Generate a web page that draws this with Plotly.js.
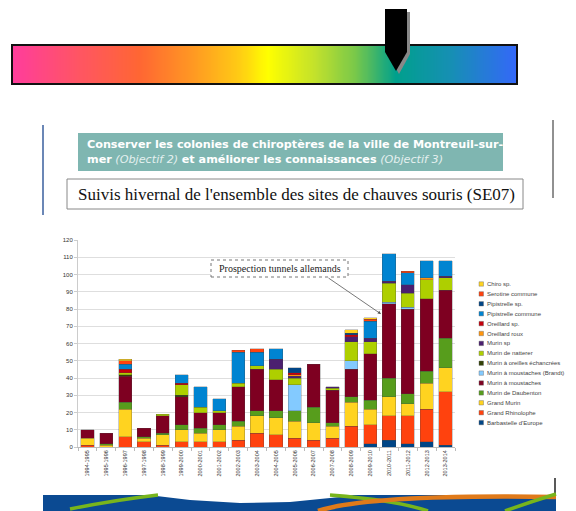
<!DOCTYPE html>
<html><head><meta charset="utf-8">
<script src="https://cdn.plot.ly/plotly-3.0.1.min.js"></script>
<style>html,body{margin:0;padding:0;background:#fff;}#chart{width:576px;height:511px;}</style>
</head><body><div id="chart"></div>
<script>
// ---- data ----
const seasons = ["1994-1995","1995-1996","1996-1997","1997-1998","1998-1999","1999-2000","2000-2001","2001-2002","2002-2003","2003-2004","2004-2005","2005-2006","2006-2007","2007-2008","2008-2009","2009-2010","2010-2011","2011-2012","2012-2013","2013-2014"];
const barbastelle   = [0,0,0,0,0,0,0,0,0,0,0,0,0,0,0,2,4,2,3,1];
const grandRhino    = [1,0,6,3,1,3,3,3,4,8,7,5,4,5,12,11,14,16,19,31];
const grandMurin    = [4,1,16,2,6,7,5,7,8,10,10,10,10,7,14,9,11,7,15,14];
const daubenton     = [0,1,4,1,1,3,3,3,3,3,4,6,9,2,3,5,11,6,7,17];
const moustaches    = [5,6,15,5,10,16,9,7,20,24,18,0,25,19,16,27,43,49,42,28];
const brandt        = [0,0,0,0,0,0,0,0,0,0,0,15,0,0,5,0,1,1,0,0];
const echancrees    = [0,0,1,0,0,1,0,0,0,0,0,0,0,0,0,0,0,0,0,0];
const natterer      = [0,0,1,0,1,6,3,1,2,2,6,4,0,1,11,7,11,8,11,7];
const murinSp       = [0,0,0,0,0,0,0,0,0,0,6,1,0,1,3,2,1,5,0,1];
const oreillardRoux = [0,0,0,0,0,0,0,0,0,0,0,1,0,0,0,0,0,0,1,0];
const oreillardSp   = [0,0,2,0,0,1,0,0,0,0,0,1,0,0,1,0,0,0,0,0];
const pipCommune    = [0,0,3,0,0,5,12,7,18,8,6,0,0,0,0,10,16,7,10,9];
const pipSp         = [0,0,0,0,0,0,0,0,0,0,0,3,0,0,1,0,0,0,0,0];
const serotine      = [0,0,2,0,0,0,0,0,1,2,0,0,0,0,0,1,0,1,0,0];
const chiroSp       = [0,0,1,0,0,0,0,0,0,0,0,0,0,0,2,1,0,0,0,0];

const speciesNames = ["Barbastelle d'Europe","Grand Rhinolophe","Grand Murin","Murin de Daubenton","Murin à moustaches","Murin à moustaches (Brandt)","Murin à oreilles échancrées","Murin de natterer","Murin sp","Oreillard roux","Oreillard sp.","Pipistrelle commune","Pipistrelle sp.","Serotine commune","Chiro sp."];
const speciesValues = [barbastelle,grandRhino,grandMurin,daubenton,moustaches,brandt,echancrees,natterer,murinSp,oreillardRoux,oreillardSp,pipCommune,pipSp,serotine,chiroSp];
const speciesColors = ["#004586","#ff420e","#ffd320","#579d1c","#7e0021","#83caff","#314004","#aecf00","#4b1f6f","#ff950e","#c5000b","#0084d1","#004586","#ff420e","#ffd320"];
const rainbowStops = [[0,"#ff3d9b"],[0.13,"#ff5563"],[0.25,"#ff6633"],[0.36,"#ff9a22"],[0.45,"#ffcc14"],[0.505,"#ffff00"],[0.6,"#c2e12c"],[0.68,"#78c84a"],[0.76,"#00a08c"],[0.87,"#168fb4"],[1,"#3468f8"]];

// ---- helpers (page pixels -> paper) ----
const W = 576, H = 511;
const PX = x => x / W;
const PY = y => 1 - y / H;
const path = pts => 'M' + pts.map(p => PX(p[0]).toFixed(5) + ',' + PY(p[1]).toFixed(5)).join(' L') + ' Z';

const traces = speciesNames.map((n, i) => ({
  type: 'bar', name: n, x: seasons,
  y: speciesValues[i].map(v => v === 0 ? null : v),
  marker: {color: speciesColors[i], line: {color: 'rgba(70,70,70,0.55)', width: 0.5}},
  xaxis: 'x', yaxis: 'y', showlegend: false
}));

// rainbow gradient strip
const gradN = 240;
const gradZ = [Array.from({length: gradN}, (_, i) => i)];
traces.unshift({type: 'heatmap', z: gradZ, colorscale: rainbowStops, showscale: false,
  zsmooth: 'best', xaxis: 'x2', yaxis: 'y2', hoverinfo: 'skip'});

const shapes = [];
const annotations = [];

// rainbow border
shapes.push({type: 'rect', xref: 'paper', yref: 'paper', x0: PX(12), x1: PX(517), y0: PY(84), y1: PY(45), line: {color: '#111', width: 2}});
// pointer (shadow + black)
shapes.push({type: 'path', xref: 'paper', yref: 'paper', path: path([[388, 12], [410, 12], [410, 54], [399, 74], [388, 54]]), fillcolor: '#888', line: {width: 0}});
shapes.push({type: 'path', xref: 'paper', yref: 'paper', path: path([[385, 9], [407, 9], [407, 52], [396, 71], [385, 52]]), fillcolor: '#000', line: {width: 0}});
// slide edge lines
shapes.push({type: 'line', xref: 'paper', yref: 'paper', x0: PX(43), x1: PX(43), y0: PY(125), y1: PY(215), line: {color: '#3a5f9e', width: 1.5}});
shapes.push({type: 'line', xref: 'paper', yref: 'paper', x0: PX(553), x1: PX(553), y0: PY(120), y1: PY(198), line: {color: '#222', width: 1}});
shapes.push({type: 'line', xref: 'paper', yref: 'paper', x0: PX(555), x1: PX(555), y0: PY(478), y1: PY(495), line: {color: '#222', width: 1.5}});
// teal heading box
shapes.push({type: 'rect', xref: 'paper', yref: 'paper', x0: PX(78), x1: PX(503), y0: PY(171), y1: PY(133), fillcolor: '#7fb6b1', line: {width: 0}, layer: 'below'});
// title box
shapes.push({type: 'rect', xref: 'paper', yref: 'paper', x0: PX(67), x1: PX(523), y0: PY(209), y1: PY(179), fillcolor: '#fff', line: {color: '#888', width: 1}, layer: 'below'});
// annotation box (dotted)
shapes.push({type: 'rect', xref: 'paper', yref: 'paper', x0: PX(211), x1: PX(348), y0: PY(277), y1: PY(260), fillcolor: '#fff', line: {color: '#777', width: 1, dash: 'dot'}});
// bottom decorative band
shapes.push({type: 'rect', xref: 'paper', yref: 'paper', x0: PX(43), x1: PX(556), y0: PY(511), y1: PY(495), fillcolor: '#0b4a92', line: {width: 0}});
shapes.push({type: 'path', xref: 'paper', yref: 'paper', path: path([[140, 494], [190, 500], [240, 503], [290, 502], [340, 497], [360, 494], [360, 490], [140, 490]]), fillcolor: '#fff', line: {width: 0}});
shapes.push({type: 'path', xref: 'paper', yref: 'paper', path: 'M' + PX(70) + ',' + PY(509) + ' Q' + PX(115) + ',' + PY(500) + ' ' + PX(158) + ',' + PY(495), line: {color: '#78b51c', width: 3.5}});
shapes.push({type: 'path', xref: 'paper', yref: 'paper', path: 'M' + PX(330) + ',' + PY(495) + ' Q' + PX(395) + ',' + PY(500) + ' ' + PX(428) + ',' + PY(511), line: {color: '#78b51c', width: 3.5}});
shapes.push({type: 'path', xref: 'paper', yref: 'paper', path: 'M' + PX(318) + ',' + PY(511) + ' Q' + PX(370) + ',' + PY(494) + ' ' + PX(556) + ',' + PY(497), line: {color: '#e07a1a', width: 4.5}});
shapes.push({type: 'path', xref: 'paper', yref: 'paper', path: 'M' + PX(505) + ',' + PY(511) + ' Q' + PX(530) + ',' + PY(502) + ' ' + PX(556) + ',' + PY(494), line: {color: '#78b51c', width: 3.5}});

// heading text
annotations.push({xref: 'paper', yref: 'paper', x: PX(85), y: PY(152), xanchor: 'left', yanchor: 'middle', align: 'left', showarrow: false,
  font: {family: 'DejaVu Sans, Verdana, sans-serif', size: 11.2, color: '#ffffff'},
  text: "<b>Conserver les colonies de chiroptères de la ville de Montreuil-sur-</b><br><b>mer</b> <i><span style='color:#e4f0ef'>(Objectif 2)</span></i> <b>et améliorer les connaissances</b> <i><span style='color:#e4f0ef'>(Objectif 3)</span></i>"});
annotations.push({xref: 'paper', yref: 'paper', x: PX(296), y: PY(194), xanchor: 'center', yanchor: 'middle', showarrow: false,
  font: {family: 'Liberation Serif, Times New Roman, serif', size: 17, color: '#111'},
  text: "Suivis hivernal de l'ensemble des sites de chauves souris (SE07)"});
annotations.push({xref: 'paper', yref: 'paper', x: PX(279.5), y: PY(268.5), xanchor: 'center', yanchor: 'middle', showarrow: false,
  font: {family: 'Liberation Serif, Times New Roman, serif', size: 10, color: '#222'},
  text: "Prospection tunnels allemands"});
annotations.push({xref: 'paper', yref: 'paper', x: PX(381), y: PY(314), ax: -54, ay: -37, showarrow: true, text: '',
  arrowhead: 2, arrowsize: 0.8, arrowwidth: 0.8, arrowcolor: '#555'});

// manual legend (top: last species)
const legTop = 284, legStep = 9.9;
for (let k = 0; k < speciesNames.length; k++) {
  const i = speciesNames.length - 1 - k;
  const yc = legTop + k * legStep;
  shapes.push({type: 'rect', xref: 'paper', yref: 'paper', x0: PX(479), x1: PX(483.5), y0: PY(yc + 2.2), y1: PY(yc - 2.2),
    fillcolor: speciesColors[i], line: {color: '#666', width: 0.4}});
  annotations.push({xref: 'paper', yref: 'paper', x: PX(485), y: PY(yc), xanchor: 'left', yanchor: 'middle', showarrow: false,
    font: {family: 'Liberation Sans, Arial, sans-serif', size: 6, color: '#444'}, text: speciesNames[i]});
}

const layout = {
  width: W, height: H, margin: {l: 0, r: 0, t: 0, b: 0},
  paper_bgcolor: '#fff', plot_bgcolor: '#fff',
  barmode: 'stack', bargap: 0.3, showlegend: false,
  xaxis: {domain: [PX(78), PX(455)], anchor: 'y', type: 'category', tickangle: -90,
    tickfont: {family: 'Liberation Sans, Arial, sans-serif', size: 5.5, color: '#333'},
    ticks: 'outside', ticklen: 3, tickcolor: '#bbb', tickson: 'boundaries',
    showline: true, linecolor: '#bbb', linewidth: 1, showgrid: false, fixedrange: true},
  yaxis: {domain: [PY(447), PY(240)], anchor: 'x', range: [0, 120], dtick: 10,
    tickfont: {family: 'Liberation Sans, Arial, sans-serif', size: 6, color: '#333'},
    ticks: 'outside', ticklen: 3, tickcolor: '#ccc', gridcolor: '#dedede', gridwidth: 1,
    showline: true, linecolor: '#ccc', zeroline: false, fixedrange: true},
  xaxis2: {domain: [PX(12), PX(517)], anchor: 'y2', visible: false, fixedrange: true},
  yaxis2: {domain: [PY(84), PY(45)], anchor: 'x2', visible: false, fixedrange: true},
  shapes: shapes, annotations: annotations
};

Plotly.newPlot('chart', traces, layout, {displayModeBar: false, staticPlot: true});
</script></body></html>
